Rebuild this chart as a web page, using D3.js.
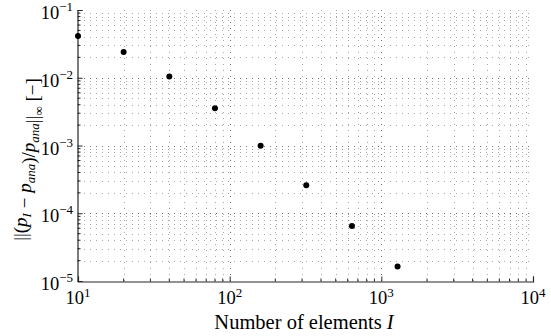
<!DOCTYPE html>
<html>
<head>
<meta charset="utf-8">
<script src="https://cdn.jsdelivr.net/npm/d3@7"></script>
<style>
  html, body { margin: 0; padding: 0; background: #fff; }
  svg text { font-family: "Liberation Serif", "DejaVu Serif", serif; fill: #000; }
</style>
</head>
<body>
<svg id="chart" width="551" height="336"></svg>
<script>
// Convergence of the relative error with mesh refinement
const elements = [10, 20, 40, 80, 160, 320, 640, 1280];
const relError = [0.0413, 0.024, 0.0104, 0.00354, 0.00099, 0.000258, 0.000065, 0.0000163];
const xDecades = [1e1, 1e2, 1e3, 1e4];
const yDecades = [1e-5, 1e-4, 1e-3, 1e-2, 1e-1];
const xExponents = ["1", "2", "3", "4"];
const yExponents = ["−5", "−4", "−3", "−2", "−1"];

const svg = d3.select("#chart");
const margin = { left: 78, right: 18, top: 10, bottom: 55 };
const W = 551, H = 336;

const x = d3.scaleLog().domain([1e1, 1e4]).range([margin.left, W - margin.right]);
const y = d3.scaleLog().domain([1e-5, 1e-1]).range([H - margin.bottom, margin.top]);

// minor values 2..9 per decade
function minors(dom) {
  const out = [];
  const lo = Math.round(Math.log10(dom[0])), hi = Math.round(Math.log10(dom[1]));
  for (let e = lo; e < hi; e++) for (let k = 2; k <= 9; k++) out.push(k * Math.pow(10, e));
  return out;
}
const xMinor = minors(x.domain());
const yMinor = minors(y.domain());

const grid = svg.append("g").attr("class", "grid")
  .attr("stroke", "#262626").attr("stroke-width", 1).attr("stroke-dasharray", "1 5");

grid.selectAll("line.vx").data(xMinor.concat(xDecades.slice(1, -1))).join("line")
  .attr("x1", d => Math.round(x(d)) + 0.5).attr("x2", d => Math.round(x(d)) + 0.5)
  .attr("y1", y.range()[0]).attr("y2", y.range()[1])
  .attr("stroke-opacity", d => xDecades.includes(d) ? 0.65 : 0.4);
grid.selectAll("line.hy").data(yMinor.concat(yDecades.slice(1, -1))).join("line")
  .attr("y1", d => Math.round(y(d)) + 0.5).attr("y2", d => Math.round(y(d)) + 0.5)
  .attr("x1", x.range()[0]).attr("x2", x.range()[1])
  .attr("stroke-opacity", d => yDecades.includes(d) ? 0.65 : 0.4);

// axes with inward ticks
const axisColor = "#262626";
const xb = svg.append("g").attr("transform", `translate(0,${y.range()[0] + 0.5})`);
const xAxis = d3.axisBottom(x).tickValues(xDecades).tickSize(-5).tickFormat("");
xb.call(xAxis);
xb.selectAll("line.minor").data(xMinor).join("line").attr("class", "minor")
  .attr("x1", d => x(d)).attr("x2", d => x(d)).attr("y1", 0).attr("y2", -3);
xb.selectAll("path, line").attr("stroke", axisColor);

const yl = svg.append("g").attr("transform", `translate(${x.range()[0] - 0.5},0)`);
const yAxis = d3.axisLeft(y).tickValues(yDecades).tickSize(-5).tickFormat("");
yl.call(yAxis);
yl.selectAll("line.minor").data(yMinor).join("line").attr("class", "minor")
  .attr("y1", d => y(d)).attr("y2", d => y(d)).attr("x1", 0).attr("x2", 3);
yl.selectAll("path, line").attr("stroke", axisColor);
svg.selectAll(".domain").attr("stroke-width", 1.2);

// tick labels as powers of ten
svg.append("g").selectAll("text").data(xDecades).join("text")
  .attr("x", d => x(d)).attr("y", y.range()[0] + 23)
  .attr("text-anchor", "middle").attr("font-size", 18.5)
  .each(function (d, i) {
    const t = d3.select(this);
    t.append("tspan").text("10");
    t.append("tspan").attr("dy", -7).attr("font-size", 13).text(xExponents[i]);
  });

svg.append("g").selectAll("text").data(yDecades).join("text")
  .attr("x", x.range()[0] - 5).attr("y", d => y(d) + 9)
  .attr("text-anchor", "end").attr("font-size", 18.5)
  .each(function (d, i) {
    const t = d3.select(this);
    t.append("tspan").text("10");
    t.append("tspan").attr("dy", -8).attr("font-size", 13).text(yExponents[i]);
  });

// data points
svg.append("g").selectAll("circle").data(elements).join("circle")
  .attr("cx", d => x(d)).attr("cy", (d, i) => y(relError[i]))
  .attr("r", 3).attr("fill", "#000");

// axis titles
const xt = svg.append("text")
  .attr("x", 304).attr("y", 329)
  .attr("text-anchor", "middle").attr("font-size", 20.5);
xt.append("tspan").text("Number of elements ");
xt.append("tspan").attr("font-style", "italic").text("I");

const yt = svg.append("text")
  .attr("transform", `translate(27,${(y.range()[0] + y.range()[1]) / 2 + 14}) rotate(-90)`)
  .attr("text-anchor", "middle").attr("font-size", 19);
function sub(t, s) {
  yt.append("tspan").attr("dy", 4).attr("font-size", 13).attr("font-style", "italic").text(s);
  yt.append("tspan").attr("dy", -4).text("");
}
yt.append("tspan").text("||(");
yt.append("tspan").attr("font-style", "italic").text("p");
sub(yt, "I");
yt.append("tspan").text(" − ");
yt.append("tspan").attr("font-style", "italic").text("p");
sub(yt, "ana");
yt.append("tspan").text(")/");
yt.append("tspan").attr("font-style", "italic").text("p");
sub(yt, "ana");
yt.append("tspan").text("||");
yt.append("tspan").attr("dy", 4).attr("font-size", 13).text("∞");
yt.append("tspan").attr("dy", -4).text(" [−]");
</script>
</body>
</html>
